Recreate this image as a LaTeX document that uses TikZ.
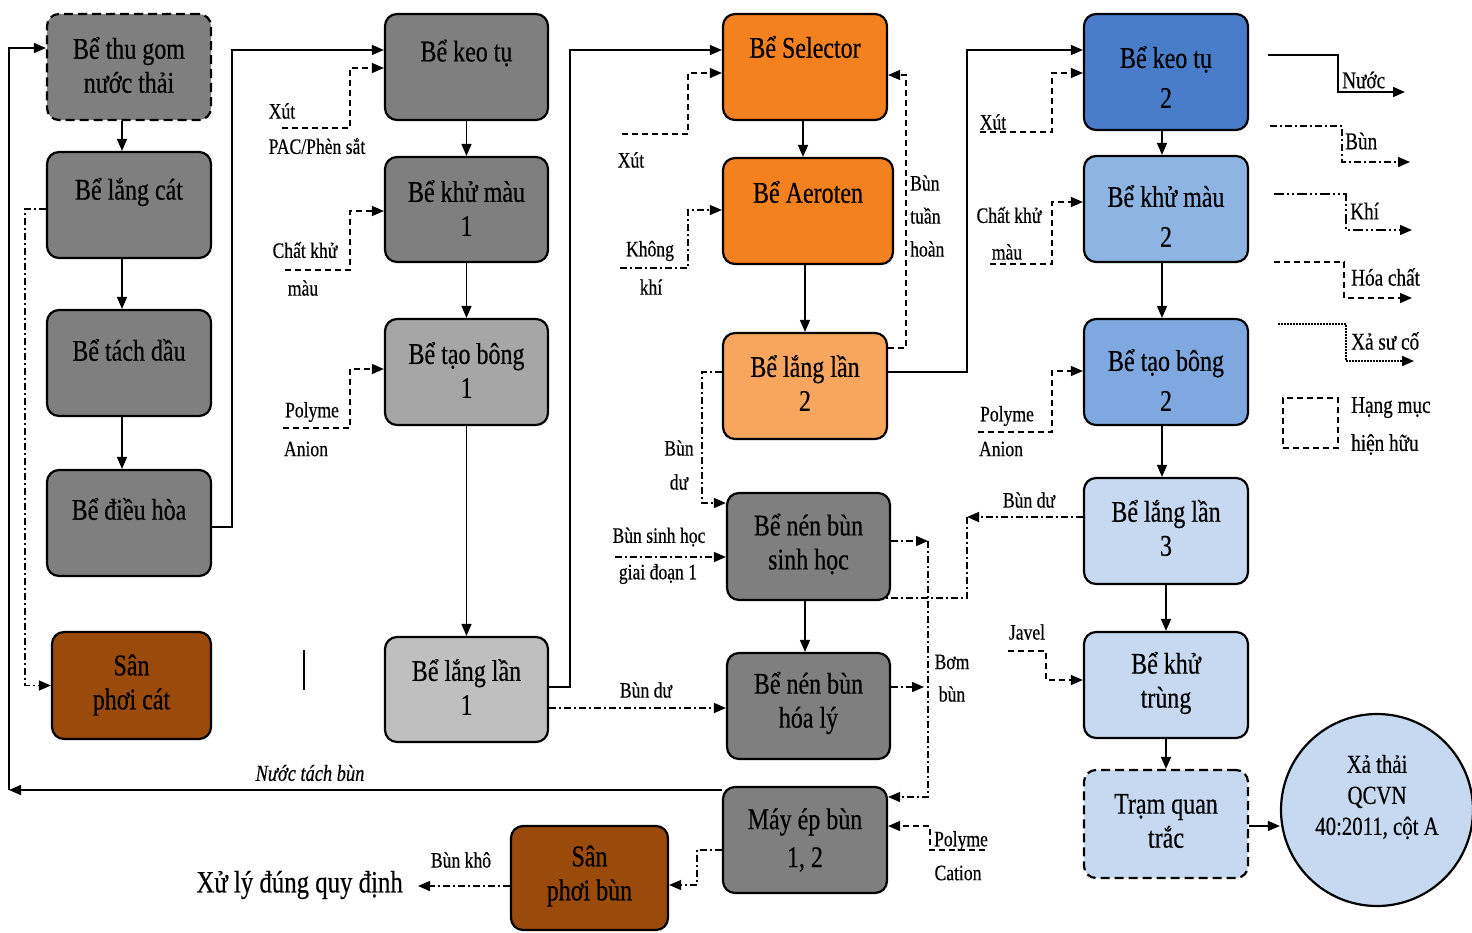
\documentclass[tikz,border=0pt]{standalone}
\usepackage{fontspec}
\setmainfont{Liberation Serif}[FakeStretch=0.8, FakeBold=0.4]
\usetikzlibrary{arrows.meta}
\definecolor{dgray}{HTML}{7F7F7F}
\definecolor{mgray}{HTML}{A6A6A6}
\definecolor{lgray}{HTML}{BFBFBF}
\definecolor{orng}{HTML}{F4811F}
\definecolor{lorng}{HTML}{F8A65E}
\definecolor{brwn}{HTML}{9A4A0A}
\definecolor{dblue}{HTML}{4A7DC9}
\definecolor{mblue}{HTML}{8DB4E3}
\definecolor{mtblue}{HTML}{7EA8DF}
\definecolor{lblue}{HTML}{C6D9F1}
\newcommand\boxfnt{\fontsize{30pt}{34pt}\selectfont}
\newcommand\labfnt{\fontsize{22pt}{24pt}\selectfont}
\newcommand\legfnt{\fontsize{24pt}{26pt}\selectfont}
\tikzset{
  box/.style={draw=black, line width=2.2pt, rounded corners=12pt, inner sep=0pt,
              minimum width=164pt, minimum height=106pt},
  txt/.style={font=\boxfnt, align=center, inner sep=0pt},
  lab/.style={font=\labfnt, inner sep=0pt},
  leg/.style={font=\legfnt, inner sep=0pt, anchor=west},
  tip/.style={-{Triangle[length=12pt,width=10pt]}},
  flow/.style={line width=1.5pt, tip},
  chem/.style={line width=1.4pt, dash pattern=on 6pt off 4pt, tip},
  ddline/.style={line width=1.4pt, dash pattern=on 7pt off 3pt on 2pt off 3pt},
  dd/.style={ddline, tip},
  ddd/.style={line width=1.4pt, dash pattern=on 10pt off 3pt on 2pt off 3pt on 2pt off 3pt, tip},
  dotl/.style={line width=2pt, dash pattern=on 1.5pt off 1.5pt, tip},
}
\begin{document}
\begin{tikzpicture}[x=1pt, y=-1pt]
\useasboundingbox (0,0) rectangle (1472,932);
\fill[white] (0,0) rectangle (1472,932);

% ---------- column 1 ----------
\node[box, fill=dgray, dash pattern=on 9pt off 5pt] (thu) at (129,67) {};
\node[txt] (thut) at (129,65) {Bể thu gom\\nước thải};
\node[box, fill=dgray] (lc) at (129,205) {};
\node[txt] (lct) at (129,192) {Bể lắng cát};
\node[box, fill=dgray] (td) at (129,363) {};
\node[txt] (tdt) at (129,350) {Bể tách dầu};
\node[box, fill=dgray] (dh) at (129,523) {};
\node[txt] (dht) at (129,509) {Bể điều hòa};
\node[box, fill=brwn, minimum width=159pt, minimum height=107pt] (spc) at (131.5,685.5) {};
\node[txt] (spct) at (131.5,685) {Sân\\phơi cát};

% ---------- column 2 ----------
\node[box, fill=dgray, minimum width=163pt] (kt1) at (466.5,67) {};
\node[txt] (kt1t) at (466.5,53) {Bể keo tụ};
\node[box, fill=dgray, minimum width=163pt, minimum height=105pt] (km1) at (466.5,209.5) {};
\node[txt] (km1t) at (466.5,208) {Bể khử màu\\1};
\node[box, fill=mgray, minimum width=163pt] (tb1) at (466.5,372) {};
\node[txt] (tb1t) at (466.5,370) {Bể tạo bông\\1};
\node[box, fill=lgray, minimum width=163pt, minimum height=105pt] (l1) at (466.5,689.5) {};
\node[txt] (l1t) at (466.5,687) {Bể lắng lần\\1};

% ---------- column 3 ----------
\node[box, fill=orng] (sel) at (805,67) {};
\node[txt] (selt) at (805,47) {Bể Selector};
\node[box, fill=orng, minimum width=170pt] (aer) at (808,211) {};
\node[txt] (aert) at (808,192) {Bể Aeroten};
\node[box, fill=lorng] (l2) at (805,386) {};
\node[txt] (l2t) at (805,383) {Bể lắng lần\\2};
\node[box, fill=dgray, minimum width=163pt, minimum height=107pt] (nsh) at (808.5,546.5) {};
\node[txt] (nsht) at (808.5,544) {Bể nén bùn\\sinh học};
\node[box, fill=dgray, minimum width=163pt] (nhl) at (808.5,706) {};
\node[txt] (nhlt) at (808.5,703) {Bể nén bùn\\hóa lý};
\node[box, fill=dgray] (mep) at (805,840) {};
\node[txt] (mept) at (805,840) {Máy ép bùn\\[4pt]1, 2};
\node[box, fill=brwn, minimum width=157pt, minimum height=104pt] (spb) at (589.5,878) {};
\node[txt] (spbt) at (589.5,876) {Sân\\phơi bùn};

% ---------- column 4 ----------
\node[box, fill=dblue, minimum height=116pt] (kt2) at (1166,72) {};
\node[txt] (kt2t) at (1166,77) {Bể keo tụ\\[6pt]2};
\node[box, fill=mblue] (km2) at (1166,209) {};
\node[txt] (km2t) at (1166,216) {Bể khử màu\\[6pt]2};
\node[box, fill=mtblue] (tb2) at (1166,372) {};
\node[txt] (tb2t) at (1166,380) {Bể tạo bông\\[6pt]2};
\node[box, fill=lblue] (l3) at (1166,531) {};
\node[txt] (l3t) at (1166,528) {Bể lắng lần\\3};
\node[box, fill=lblue] (ktr) at (1166,685) {};
\node[txt] (ktrt) at (1166,683) {Bể khử\\trùng};
\node[box, fill=lblue, minimum height=108pt, dash pattern=on 9pt off 5pt] (tqt) at (1166,824) {};
\node[txt] (tqtt) at (1166,821) {Trạm quan\\trắc};
\node[circle, draw=black, line width=2.2pt, fill=lblue, minimum size=192pt, inner sep=0pt] (circ) at (1377,810) {};
\node[txt, font=\fontsize{26pt}{31pt}\selectfont] (circt) at (1377,797) {Xả thải\\QCVN\\40:2011, cột A};

% ---------- labels ----------
\node[lab] (la1) at (282,111) {Xút};
\node[lab] (la2) at (317,146) {PAC/Phèn sắt};
\node[lab] (la3) at (305,250) {Chất khử};
\node[lab] (la4) at (303,288) {màu};
\node[lab] (la5) at (312,412) {Polyme};
\node[lab] (la6) at (306,449) {Anion};
\node[lab] (la7) at (631,160) {Xút};
\node[lab] (la8) at (650,251) {Không};
\node[lab] (la9) at (651,287) {khí};
\node[lab, anchor=west, align=left, font=\fontsize{22pt}{33pt}\selectfont] (la10) at (910,216) {Bùn\\tuần\\hoàn};
\node[lab] (la11) at (993,122) {Xút};
\node[lab] (la12) at (1009,215) {Chất khử};
\node[lab] (la13) at (1007,252) {màu};
\node[lab] (la14) at (1007,416) {Polyme};
\node[lab] (la15) at (1001,449) {Anion};
\node[lab] (la16) at (1029,500) {Bùn dư};
\node[lab] (la17) at (1027,632) {Javel};
\node[lab] (la18) at (679,448) {Bùn};
\node[lab] (la19) at (679,482) {dư};
\node[lab] (la20) at (659,537) {Bùn sinh học};
\node[lab] (la21) at (658,574) {giai đoạn 1};
\node[lab] (la22) at (646,690) {Bùn dư};
\node[lab] (la23) at (952,662) {Bơm};
\node[lab] (la24) at (952,694) {bùn};
\node[lab] (la25) at (961,841) {Polyme};
\node[lab] (la26) at (958,873) {Cation};
\node[lab] (la27) at (461,860) {Bùn khô};
\node[lab, font=\itshape\fontsize{23pt}{24pt}\selectfont] (la28) at (310,773) {Nước tách bùn};
\node[inner ysep=0pt, inner xsep=0pt, anchor=east, font=\fontsize{31pt}{32pt}\selectfont] (xl) at (403,885) {Xử lý đúng quy định};
\coordinate (xlend) at (418,886);

% ---------- main flow ----------
\draw[flow] (thu.south -| 122,0) -- (lc.north -| 122,0);
\draw[flow] (lc.south -| 122,0) -- (td.north -| 122,0);
\draw[flow] (td.south -| 122,0) -- (dh.north -| 122,0);
\draw[dd] (lc.west |- 0,209) -- (25,209) |- (spc.west);
\draw[flow] (dh.east |- 0,527) -- (232,527) |- (kt1.west |- 0,50);
\coordinate (f1) at (282,128);
\draw[chem] (f1) -- (350,128) |- (kt1.west |- 0,68);
\draw[flow] (kt1) -- (km1);
\coordinate (f2) at (285,270);
\draw[chem] (f2) -- (350,270) |- (km1.west |- 0,211);
\draw[flow] (km1) -- (tb1);
\coordinate (f3) at (283,428);
\draw[chem] (f3) -- (350,428) |- (tb1.west |- 0,369);
\draw[flow] (tb1) -- (l1);
\draw[flow] (l1.east |- 0,687) -- (570,687) |- (sel.west |- 0,50);
\draw[dd] (l1.east |- 0,708) -- (nhl.west |- 0,708);
\coordinate (f4) at (622,134);
\draw[chem] (f4) -- (688,134) |- (sel.west |- 0,73);
\coordinate (f5) at (620,268);
\draw[dd] (f5) -- (688,268) |- (aer.west |- 0,210);
\draw[flow] (sel.south -| 803,0) -- (aer.north -| 803,0);
\draw[flow] (aer.south -| 805,0) -- (l2.north -| 805,0);
\draw[chem] (l2.east |- 0,348) -- (906,348) |- (sel.east |- 0,75);
\draw[flow] (l2.east |- 0,372) -- (967,372) |- (kt2.west |- 0,50);
\draw[dd] (l2.west |- 0,372) -- (702,372) |- (nsh.west |- 0,503);
\coordinate (f6) at (615,557);
\draw[dd] (f6) -- (nsh.west |- 0,557);
\draw[flow] (nsh.south -| 805,0) -- (nhl.north -| 805,0);
\coordinate (pump) at (928,541);
\draw[dd] (nsh.east |- 0,541) -- (pump);
\draw[dd] (pump) |- (mep.east |- 0,797);
\coordinate (pump2) at (924,687);
\draw[dd] (nhl.east |- 0,687) -- (pump2);
\coordinate (bd3) at (967,517);
\draw[dd] (l3.west |- 0,517) -- (bd3);
\draw[ddline] (bd3) -- (967,598) -- (885,598);
\coordinate (f7) at (985,850);
\draw[chem] (f7) -- (930,850) |- (mep.east |- 0,826);
\draw[dd] (mep.west |- 0,850) -- (697,850) |- (spb.east |- 0,885);
\draw[dd] (spb.west |- 0,886) -- (xlend);
\coordinate (ret) at (9,790);
\draw[flow] (mep.west |- 0,790) -- (ret);
\draw[flow] (ret) |- (thu.west |- 0,48);

\draw[flow] (kt2.south -| 1162,0) -- (km2.north -| 1162,0);
\coordinate (f8) at (980,132);
\draw[chem] (f8) -- (1052,132) |- (kt2.west |- 0,73);
\draw[flow] (km2.south -| 1162,0) -- (tb2.north -| 1162,0);
\coordinate (f9) at (990,264);
\draw[chem] (f9) -- (1052,264) |- (km2.west |- 0,202);
\draw[flow] (tb2.south -| 1162,0) -- (l3.north -| 1162,0);
\coordinate (f10) at (978,432);
\draw[chem] (f10) -- (1052,432) |- (tb2.west |- 0,371);
\draw[flow] (l3) -- (ktr);
\coordinate (f11) at (1008,651);
\draw[chem] (f11) -- (1046,651) |- (ktr.west |- 0,680);
\draw[flow] (ktr) -- (tqt);
\draw[flow] (tqt.east |- 0,826) -- (circ.west |- 0,826);

% stray mark
\draw[line width=2.5pt] (304,650) -- (304,690);

% ---------- legend ----------
\coordinate (g1a) at (1268,55); \coordinate (g1b) at (1405,92);
\draw[flow] (g1a) -- (1338,55) |- (g1b);
\node[leg] (g1t) at (1342,80) {Nước};
\coordinate (g2a) at (1270,126); \coordinate (g2b) at (1410,162);
\draw[dd] (g2a) -- (1342,126) |- (g2b);
\node[leg] (g2t) at (1345,141) {Bùn};
\coordinate (g3a) at (1274,194); \coordinate (g3b) at (1412,230);
\draw[ddd] (g3a) -- (1346,194) |- (g3b);
\node[leg] (g3t) at (1350,211) {Khí};
\coordinate (g4a) at (1274,262); \coordinate (g4b) at (1412,298);
\draw[chem] (g4a) -- (1344,262) |- (g4b);
\node[leg] (g4t) at (1351,277) {Hóa chất};
\coordinate (g5a) at (1278,324); \coordinate (g5b) at (1414,361);
\draw[dotl] (g5a) -- (1346,324) |- (g5b);
\node[leg] (g5t) at (1351,341) {Xả sư cố};
\node[draw=black, line width=1.4pt, dash pattern=on 6pt off 4pt, minimum width=55pt, minimum height=50pt, inner sep=0pt] (lgbox) at (1310.5,423) {};
\node[leg, align=left, font=\fontsize{24pt}{38pt}\selectfont] (g6t) at (1351,426) {Hạng mục\\hiện hữu};
\end{tikzpicture}
\end{document}
